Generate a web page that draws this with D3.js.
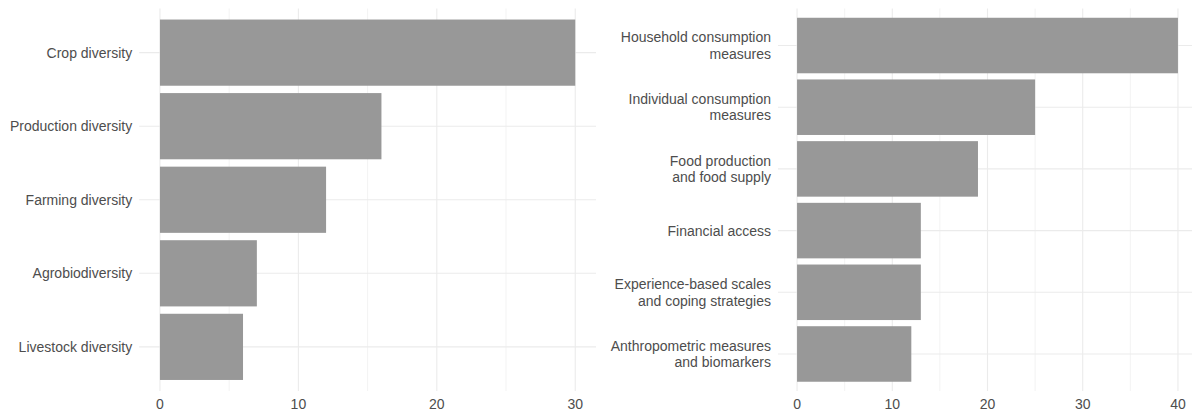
<!DOCTYPE html>
<html>
<head>
<meta charset="utf-8">
<script src="https://cdn.jsdelivr.net/npm/d3@7"></script>
<style>
  body { margin: 0; background: #fff; }
  svg { display: block; font-family: "Liberation Sans", Arial, sans-serif; }
</style>
</head>
<body>
<svg></svg>
<script>
// chart values
var leftCats = ["Crop diversity", "Production diversity", "Farming diversity", "Agrobiodiversity", "Livestock diversity"];
var leftVals = [30, 16, 12, 7, 6];
var leftTicks = [0, 10, 20, 30];
var leftMinor = [5, 15, 25];

var rightCats = [
  "Household consumption\nmeasures",
  "Individual consumption\nmeasures",
  "Food production\nand food supply",
  "Financial access",
  "Experience-based scales\nand coping strategies",
  "Anthropometric measures\nand biomarkers"
];
var rightVals = [40, 25, 19, 13, 13, 12];
var rightTicks = [0, 10, 20, 30, 40];
var rightMinor = [5, 15, 25, 35];

var width = 1192, height = 412;
var textColor = "#4d4d4d";
var gridColor = "#ebebeb";
var barColor = "#989898";

var svg = d3.select("svg")
    .attr("width", width)
    .attr("height", height);

// draw one ggplot style panel
function panel(cats, vals, ticks, minor, x0, x1, dmax) {
  // 5% expansion each side like ggplot
  var pad = dmax * 0.05;
  var x = d3.scaleLinear().domain([-pad, dmax + pad]).range([x0, x1]);
  var y = d3.scaleBand().domain(cats).range([8.5, 391])
      .paddingInner(0.1).paddingOuter(0.15);

  var g = svg.append("g");

  // minor grid
  g.selectAll(".minor").data(minor).enter().append("line")
      .attr("x1", function(d) { return x(d); })
      .attr("x2", function(d) { return x(d); })
      .attr("y1", 8.5).attr("y2", 391)
      .attr("stroke", gridColor).attr("stroke-width", 0.6);

  // major grid
  g.selectAll(".major").data(ticks).enter().append("line")
      .attr("x1", function(d) { return x(d); })
      .attr("x2", function(d) { return x(d); })
      .attr("y1", 8.5).attr("y2", 391)
      .attr("stroke", gridColor).attr("stroke-width", 1.1);

  g.selectAll(".hgrid").data(cats).enter().append("line")
      .attr("x1", x0).attr("x2", x1)
      .attr("y1", function(d) { return y(d) + y.bandwidth() / 2; })
      .attr("y2", function(d) { return y(d) + y.bandwidth() / 2; })
      .attr("stroke", gridColor).attr("stroke-width", 1.1);

  // bars
  g.selectAll(".bar").data(vals).enter().append("rect")
      .attr("x", x(0))
      .attr("y", function(d, i) { return y(cats[i]); })
      .attr("width", function(d) { return x(d) - x(0); })
      .attr("height", y.bandwidth())
      .attr("fill", barColor);

  // x tick labels
  g.selectAll(".xt").data(ticks).enter().append("text")
      .attr("x", function(d) { return x(d); })
      .attr("y", 408.5)
      .attr("text-anchor", "middle")
      .style("font-size", "14px")
      .attr("fill", textColor)
      .text(function(d) { return d; });

  // category labels, may be two lines
  var lab = g.selectAll(".yt").data(cats).enter().append("text")
      .attr("text-anchor", "end")
      .style("font-size", "14px")
      .attr("fill", textColor);

  lab.each(function(d) {
    var lines = d.split("\n");
    var cy = y(d) + y.bandwidth() / 2;
    var lh = 16.5;
    var start = cy - (lines.length - 1) * lh / 2 + 5;
    var t = d3.select(this);
    lines.forEach(function(l, k) {
      t.append("tspan")
          .attr("x", x0 - 7)
          .attr("y", start + k * lh)
          .text(l);
    });
  });
}

panel(leftCats, leftVals, leftTicks, leftMinor, 139.2, 596, 30);
panel(rightCats, rightVals, rightTicks, rightMinor, 778, 1197, 40);
</script>
</body>
</html>
